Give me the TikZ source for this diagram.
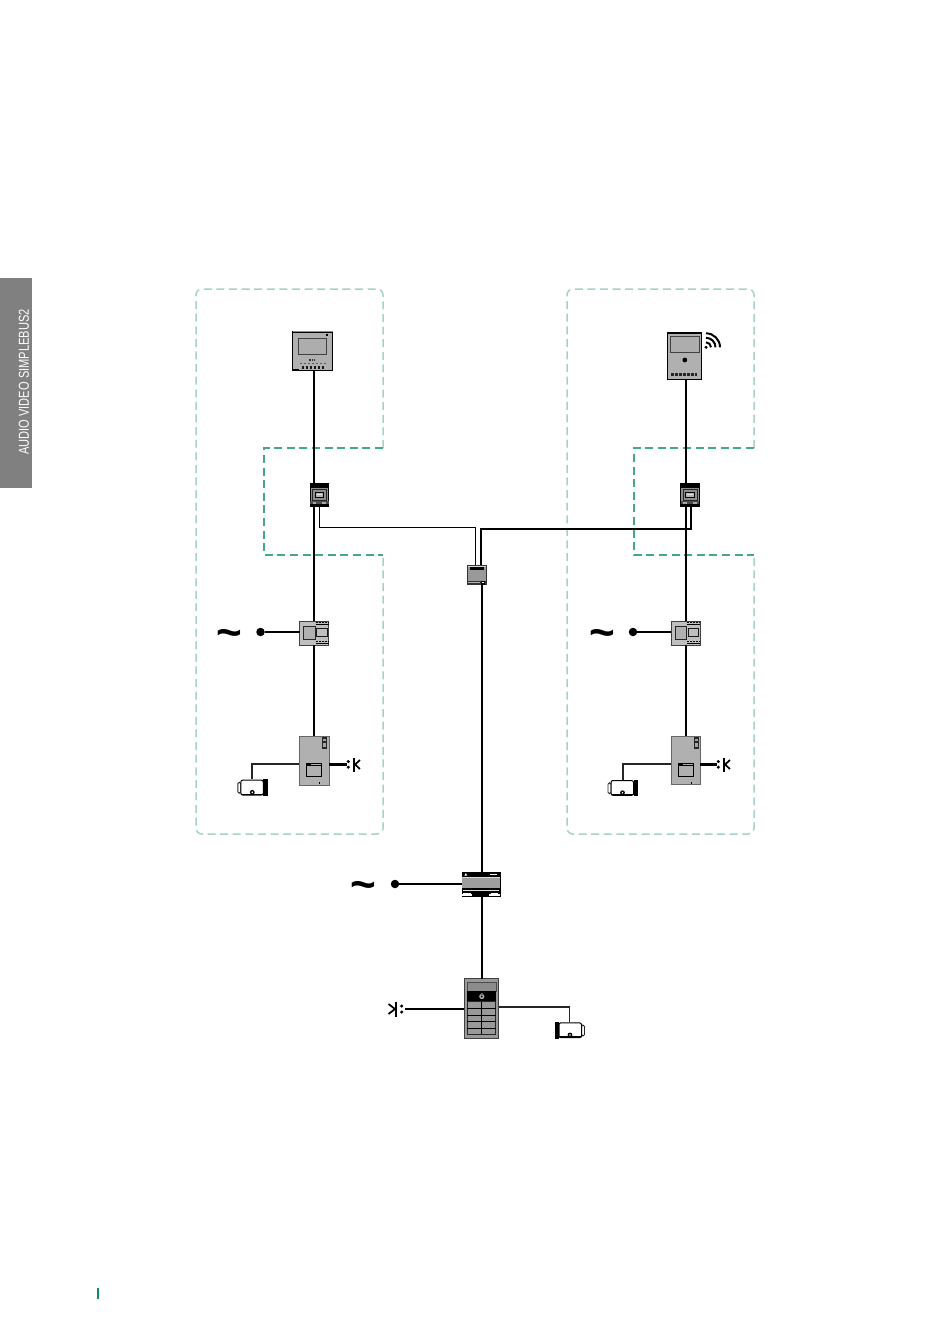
\documentclass[tikz,border=0pt]{standalone}
\usepackage{fontspec}
\setmainfont{Liberation Sans}
\newfontfamily\tabfont[FakeStretch=0.77]{Liberation Sans}
\definecolor{zoneLight}{HTML}{A5D3C0}
\definecolor{zoneDark}{HTML}{45A884}
\definecolor{tabGrey}{HTML}{808080}
\definecolor{devGrey}{HTML}{B0B0B0}
\definecolor{midGrey}{HTML}{999999}
\definecolor{tickGreen}{HTML}{0A9060}
\tikzset{
  zoneouter/.style={draw=zoneLight,line width=1.5pt,dash pattern=on 8pt off 4.6pt},
  zoneinner/.style={draw=zoneDark,line width=1.15pt,dash pattern=on 8pt off 4.6pt},
  wire/.style={draw=black,line width=2.1pt},
  thinwire/.style={draw=black,line width=1pt},
  sidewire/.style={draw=black!85,line width=1.6pt},
  devbox/.style={rectangle,inner sep=0pt,outer sep=0pt},
  monitorbox/.style={devbox,fill=devGrey,draw=black,line width=1.2pt},
  distbox/.style={devbox,fill=black!45,draw=black,line width=.9pt},
  centralbox/.style={devbox,fill=midGrey,draw=black!80,line width=.9pt},
  powerbox/.style={devbox,fill=black!25,draw=black!75,line width=1pt},
  doorbox/.style={devbox,fill=devGrey,draw=black!60,line width=.8pt},
  supplybox/.style={devbox,fill=black,draw=black,line width=.5pt},
  panelbox/.style={devbox,fill=black!40,draw=black!75,line width=1.2pt},
  cambox/.style={devbox},
  lockbox/.style={devbox},
  dotnode/.style={circle,fill=black,inner sep=0pt,outer sep=0pt,minimum size=8.5pt},
  acsign/.style={inner sep=0pt,font=\bfseries\fontsize{44}{44}\selectfont},
  lockbar/.style={draw=black,line width=1.7pt},
  screenrect/.style={fill=black!32,draw=black!75,line width=1pt},
}
\newcommand\placebox[6]{\node[#1,minimum width=#5pt,minimum height=#6pt,anchor=north west] (#2) at (#3,#4) {};}
% details, coordinates relative to the top-left corner of the named node
\newcommand\detMonitorL[1]{\begin{scope}[shift={(#1.north west)}]
  \fill[black!45] (0,-1) rectangle (40,.3);
  \draw[screenrect] (6,6.5) rectangle (34,22.5);
  \fill[black] (33,1.5) rectangle (35,3.5);
  \fill[black] (0,36.5) rectangle (6,39);
  \foreach \i in {0,1,2} {\fill[black!80] (16.5+\i*2.3,27) rectangle (17.9+\i*2.3,29);}
  \foreach \i in {0,...,6} {\fill[black!65] (7+\i*4,30.5) rectangle (9.4+\i*4,32.2);}
  \foreach \i in {0,...,5} {\fill[black!90] (9+\i*4,34) rectangle (11.6+\i*4,36.5);}
\end{scope}}
\newcommand\detMonitorR[1]{\begin{scope}[shift={(#1.north west)}]
  \draw[screenrect] (3,3.5) rectangle (31.5,19);
  \fill[black] (17.3,27) circle (2.4);
  \foreach \i in {0,...,6} {\fill[black!85] (3.7+\i*3.9,39.5) rectangle (6.5+\i*3.9,42.5);}
\end{scope}}
\newcommand\detWifi[1]{\begin{scope}[shift={(#1)}]
  \fill (0,0) circle (1.7);
  \foreach \r in {5,9.5,14} {\draw[black,line width=2pt] (0,-\r) .. controls (.55*\r,-\r) and (\r,-.55*\r) .. (\r,0);}
\end{scope}}
\newcommand\detDist[1]{\begin{scope}[shift={(#1.north west)}]
  \fill[black] (0,0) rectangle (18.7,4.2);
  \fill[black!70] (0,17.5) rectangle (18.7,22.7);
  \fill[black!35] (2.5,18.5) rectangle (6,20);
  \fill[black!35] (12,18.5) rectangle (16,20);
  \fill[black] (0,20.5) rectangle (18.7,22.7);
  \draw[black!85,line width=.9pt,fill=black!45] (2.3,5.7) rectangle (16.3,16.7);
  \draw[black,line width=.9pt,fill=black!30] (5,8.5) rectangle (13.5,13.5);
  \fill[black!10] (6.7,10.3) rectangle (11.8,11.8);
\end{scope}}
\newcommand\detCentral[1]{\begin{scope}[shift={(#1.north west)}]
  \fill[black!15] (.5,.5) rectangle (18.9,2);
  \fill[black] (2.5,2.4) rectangle (17,5);
  \fill[black!80] (0,16) rectangle (19.4,19.7);
  \fill[black!30] (1,17) rectangle (13,18.2);
  \fill[black] (13.5,15.5) rectangle (18,19.7);
  \fill[white] (14.8,16.5) rectangle (16.6,17.5);
\end{scope}}
\newcommand\detPower[1]{\begin{scope}[shift={(#1.north west)}]
  \draw[black!85,line width=1pt,fill=devGrey] (4,5.7) rectangle (15.7,18.3);
  \draw[black!90,line width=1pt,fill=black!25] (17.2,7) rectangle (27.7,15.7);
  \foreach \y in {1.5,20.5} {
    \draw[black,line width=1.6pt,dash pattern=on 2pt off 1pt] (16,\y) -- (29.4,\y);
    \draw[black,line width=.6pt] (16,\y+1.7) -- (29.4,\y+1.7);
  }
\end{scope}}
\newcommand\detDoor[1]{\begin{scope}[shift={(#1.north west)}]
  \fill[black!85] (23,1) rectangle (28,13);
  \fill[black!35] (24,2.5) rectangle (27,5);
  \fill[black!35] (24,7) rectangle (27,11);
  \draw[black,line width=.9pt,fill=devGrey] (7,27.3) rectangle (22.7,40.7);
  \fill[black] (7,26.8) rectangle (12,28.8);
  \draw[black,line width=.9pt] (7,29) -- (22.7,29);
  \fill[black] (20.2,45.5) rectangle (21.2,48);
\end{scope}}
% camera drawn in a 31 x 16.5 box, black end on the right
\newcommand\detCamera[2]{\begin{scope}[shift={(#1)},xscale=#2]
  \draw[black!85,line width=.9pt,fill=white,rounded corners=1.5pt] (.5,3) -- (3.5,3) -- (3.5,14) -- (.5,14) -- cycle;
  \draw[black,line width=1pt,fill=white,rounded corners=2pt] (3.5,.8) rectangle (26,15.7);
  \fill[black] (26,0) rectangle (30.5,16.5);
  \draw[black,line width=.9pt] (3.5,14.7) -- (26,14.7);
  \fill[black] (15,13) circle (2.4);
  \fill[white] (15,13) circle (.9);
\end{scope}}
\newcommand\detSupply[1]{\begin{scope}[shift={(#1.north west)}]
  \fill[white] (.8,.8) rectangle (37,3.5);
  \fill[black] (.8,1) rectangle (36.8,3.6);
  \fill[white] (28,1.3) rectangle (35,2.4);
  \fill[white] (2,3.4) -- (3.5,.8) -- (5,3.4) -- cycle;
  \fill[black!15] (0,4.4) rectangle (37.7,5);
  \fill[black!38] (0,5.2) rectangle (37.7,15.6);
  \fill[black!12] (1,18) rectangle (36.7,18.7);
  \fill[white] (1,20.3) rectangle (9,21.5);
  \fill[white] (29,20.3) rectangle (36,21.5);
  \fill[white] (0,21.5) rectangle (10,23.7);
  \fill[white] (27,21.5) rectangle (37.7,23.7);
\end{scope}}
\newcommand\detPanel[1]{\begin{scope}[shift={(#1.north west)}]
  \draw[black!70,line width=.8pt,fill=black!45] (3.2,3.5) rectangle (31.7,12.7);
  \fill[black] (3.2,12.7) rectangle (31.7,23.3);
  \fill[black!30] (17.6,18) circle (2.6);
  \fill[black] (17.6,18) circle (1.1);
  \fill[black!60] (16.6,14) rectangle (18.6,16);
  \draw[black!85,line width=.9pt,fill=black!40] (3.2,23.3) rectangle (31.7,55.7);
  \foreach \y in {29.7,36.7,43.2,49.7} {\draw[black,line width=.9pt] (3.2,\y) -- (31.7,\y);}
  \draw[black,line width=.9pt] (17.6,23.3) -- (17.6,55.7);
\end{scope}}
\begin{document}
\begin{tikzpicture}[x=1pt,y=-1pt]
\useasboundingbox (0,0) rectangle (950,1344);
% side tab and page tick
\fill[tabGrey] (0,278) rectangle (32,487.5);
\node[rotate=90,inner sep=0pt,text=white,font=\tabfont\fontsize{14.4}{14.4}\selectfont] (tab) at (24,382) {AUDIO VIDEO SIMPLEBUS2};
\draw[tickGreen,line width=1.1pt] (98,1288) -- (98,1299);
% zones
\draw[zoneouter] (383,448) -- (383,295) [rounded corners=6pt] -- (383,289) -- (196,289) -- (196,834) -- (383,834) [sharp corners] -- (383,555);
\draw[zoneinner] (383,448) -- (264,448) -- (264,555) -- (383,555);
\draw[zoneouter] (754,448) -- (754,295) [rounded corners=6pt] -- (754,289) -- (567,289) -- (567,834) -- (754,834) [sharp corners] -- (754,555);
\draw[zoneinner] (754,448) -- (634,448) -- (634,555) -- (754,555);
% bus positions
\coordinate (busL) at (314,0);
\coordinate (busR) at (686,0);
\coordinate (busC) at (482,0);
% devices
\placebox{monitorbox}{monL}{292.7}{332}{40}{38.7}
\placebox{monitorbox}{monR}{667.5}{333}{34}{46.3}
\placebox{distbox}{distL}{310}{483.5}{18.7}{22.7}
\placebox{distbox}{distR}{680.7}{483.5}{18.7}{22.7}
\placebox{centralbox}{central}{467.3}{565}{19.4}{19.7}
\placebox{powerbox}{powerL}{299.5}{621}{29.4}{24}
\placebox{powerbox}{powerR}{671}{621}{29}{24}
\placebox{doorbox}{doorL}{299.2}{736}{29.8}{49}
\placebox{doorbox}{doorR}{671}{736}{29}{48.5}
\placebox{supplybox}{supply}{462.3}{872.3}{37.7}{23.7}
\placebox{panelbox}{panel}{464.2}{978.5}{34.5}{60}
\placebox{cambox}{camL}{237.3}{779.3}{30.5}{16.5}
\placebox{cambox}{camR}{607.5}{779.7}{31}{16.5}
\placebox{cambox}{camP}{554}{1022}{31}{16.5}
\node[dotnode] (dotL) at (260.5,632) {};
\node[dotnode] (dotR) at (633,632) {};
\node[dotnode] (dotS) at (395,884) {};
\node[acsign] (acL) at (229.5,638.3) {\char`\~};
\node[acsign] (acR) at (602,638.3) {\char`\~};
\node[acsign] (acS) at (363.5,890.3) {\char`\~};
\placebox{lockbox}{lockL}{347}{757.5}{14}{14}
\placebox{lockbox}{lockR}{717}{757.5}{14}{14}
\placebox{lockbox}{lockP}{388}{1001.5}{17}{15}
% details
\detMonitorL{monL}
\detMonitorR{monR}
\detWifi{706,347.3}
\detDist{distL}
\detDist{distR}
\detCentral{central}
\detPower{powerL}
\detPower{powerR}
\detDoor{doorL}
\detDoor{doorR}
\detSupply{supply}
\detPanel{panel}
\detCamera{camL.north west}{1}
\detCamera{camR.north west}{1}
\detCamera{camP.north east}{-1}
% lock symbols
\foreach \n in {lockL,lockR} {
  \begin{scope}[shift={(\n.north west)}]
    \fill (1.3,4) circle (1.7);
    \fill (1.3,9.7) circle (1.7);
    \draw[lockbar] (7.3,0) -- (7.3,14);
    \draw[lockbar] (13,2.5) -- (8,7) -- (13,11.5);
  \end{scope}
}
\begin{scope}[shift={(lockP.north west)}]
  \fill (13.7,4.5) circle (1.7);
  \fill (13.7,10.5) circle (1.7);
  \draw[lockbar] (7.7,0) -- (7.7,15);
  \draw[lockbar] (.5,2.5) -- (7,7.5) -- (.5,12.5);
\end{scope}
% connectors
\draw[wire] (monL.south -| busL) -- (distL.north -| busL);
\draw[wire] (distL.south -| busL) -- (powerL.north -| busL);
\draw[wire] (powerL.south -| busL) -- (doorL.north -| busL);
\draw[wire] (monR.south -| busR) -- (distR.north -| busR);
\draw[wire] (distR.south -| busR) -- (powerR.north -| busR);
\draw[wire] (powerR.south -| busR) -- (doorR.north -| busR);
\draw[thinwire] (distL.south) -- ++(0,21.3) -| ([xshift=-1.6pt]central.north);
\draw[wire] ([xshift=3.6pt]central.north) |- ++(100,-35.7) -| ([xshift=1.1pt]distR.south);
\draw[wire] (central.south -| busC) -- (supply.north -| busC);
\draw[wire] (supply.south -| busC) -- (panel.north -| busC);
\draw[wire] (dotL) -- (powerL.west |- dotL);
\draw[wire] (dotR) -- (powerR.west |- dotR);
\draw[wire] (dotS) -- (supply.west |- dotS);
\draw[sidewire] (doorL.west |- 0,764) -| (camL.north west -| 251.7,0);
\draw[sidewire] (doorR.west |- 0,764) -| (camR.north west -| 622.7,0);
\draw[wire] (doorL.east |- 0,764.5) -- (lockL.west |- 0,764.5);
\draw[wire] (doorR.east |- 0,764.5) -- (lockR.west |- 0,764.5);
\draw[wire] (panel.west |- 0,1008.7) -- (lockP.east |- 0,1008.7);
\draw[sidewire] (panel.east |- 0,1006.7) -| (camP.north -| 569.3,0);
\end{tikzpicture}
\end{document}
